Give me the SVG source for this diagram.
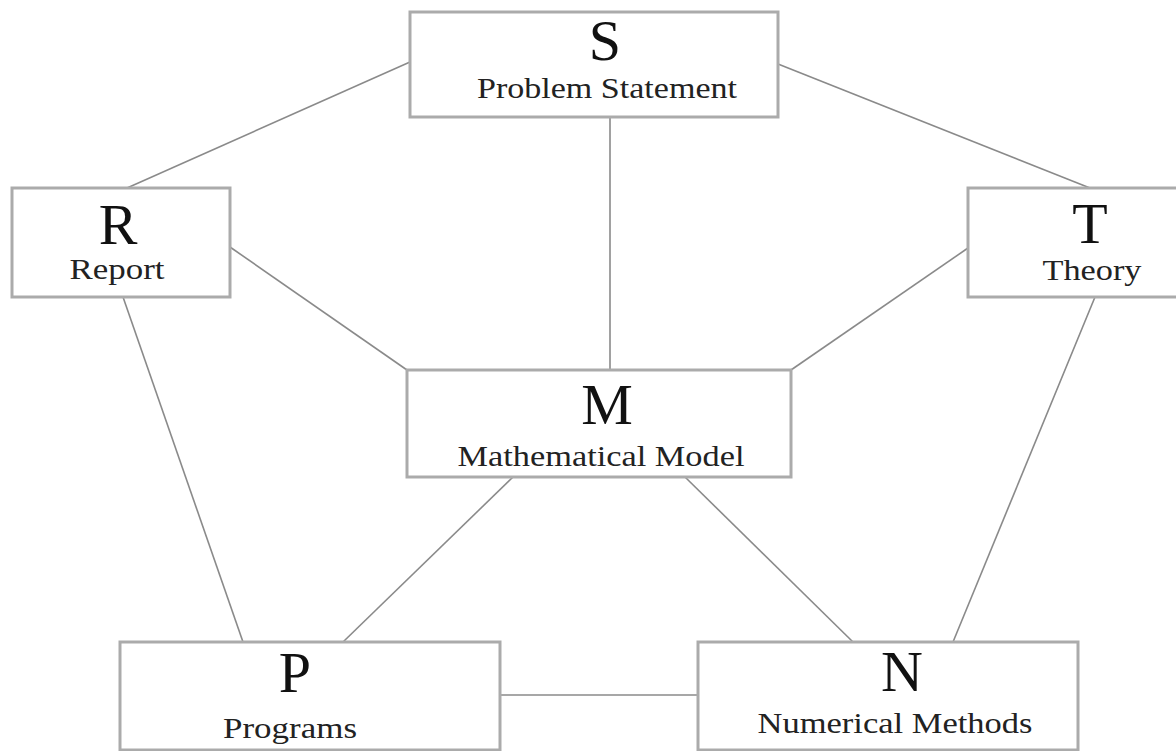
<svg xmlns="http://www.w3.org/2000/svg" width="1176" height="751" viewBox="0 0 1176 751">
<style>
.box{fill:#fff;stroke:#ababab;stroke-width:3}
.big{font-family:"Liberation Serif",serif;font-size:58px;fill:#111;text-anchor:middle}
.lbl{font-family:"Liberation Serif",serif;font-size:29px;fill:#222;text-anchor:middle}
.con line{stroke:#8a8a8a;stroke-width:1.6}
</style>
<rect width="1176" height="751" fill="#fff"/>
<g id="connectors" class="con">
<line x1="410" y1="62" x2="127" y2="188"/>
<line x1="778" y1="64" x2="1090" y2="188"/>
<line x1="610" y1="117" x2="610" y2="370"/>
<line x1="230" y1="247" x2="407" y2="370"/>
<line x1="968" y1="248" x2="791" y2="370"/>
<line x1="123" y1="297" x2="243" y2="642"/>
<line x1="1095" y1="297" x2="953" y2="642"/>
<line x1="513" y1="477" x2="343" y2="642"/>
<line x1="685" y1="477" x2="853" y2="642"/>
<line x1="500" y1="695" x2="698" y2="695"/>
</g>
<g id="S">
<rect class="box" x="410" y="12" width="368" height="105"/>
<text class="big" x="605" y="60">S</text>
<text class="lbl" x="607" y="98" textLength="260" lengthAdjust="spacingAndGlyphs">Problem Statement</text>
</g>
<g id="R">
<rect class="box" x="12" y="188" width="218" height="109"/>
<text class="big" x="118" y="244">R</text>
<text class="lbl" x="117" y="279" textLength="95" lengthAdjust="spacingAndGlyphs">Report</text>
</g>
<g id="T">
<rect class="box" x="968" y="188" width="212" height="109"/>
<text class="big" x="1090" y="243">T</text>
<text class="lbl" x="1092" y="280" textLength="99" lengthAdjust="spacingAndGlyphs">Theory</text>
</g>
<g id="M">
<rect class="box" x="407" y="370" width="384" height="107"/>
<text class="big" x="607" y="424">M</text>
<text class="lbl" x="601" y="466" textLength="287" lengthAdjust="spacingAndGlyphs">Mathematical Model</text>
</g>
<g id="P">
<rect class="box" x="120" y="642" width="380" height="108"/>
<text class="big" x="295" y="692">P</text>
<text class="lbl" x="290" y="738" textLength="134" lengthAdjust="spacingAndGlyphs">Programs</text>
</g>
<g id="N">
<rect class="box" x="698" y="642" width="380" height="108"/>
<text class="big" x="902" y="691">N</text>
<text class="lbl" x="895" y="733" textLength="275" lengthAdjust="spacingAndGlyphs">Numerical Methods</text>
</g>
</svg>
